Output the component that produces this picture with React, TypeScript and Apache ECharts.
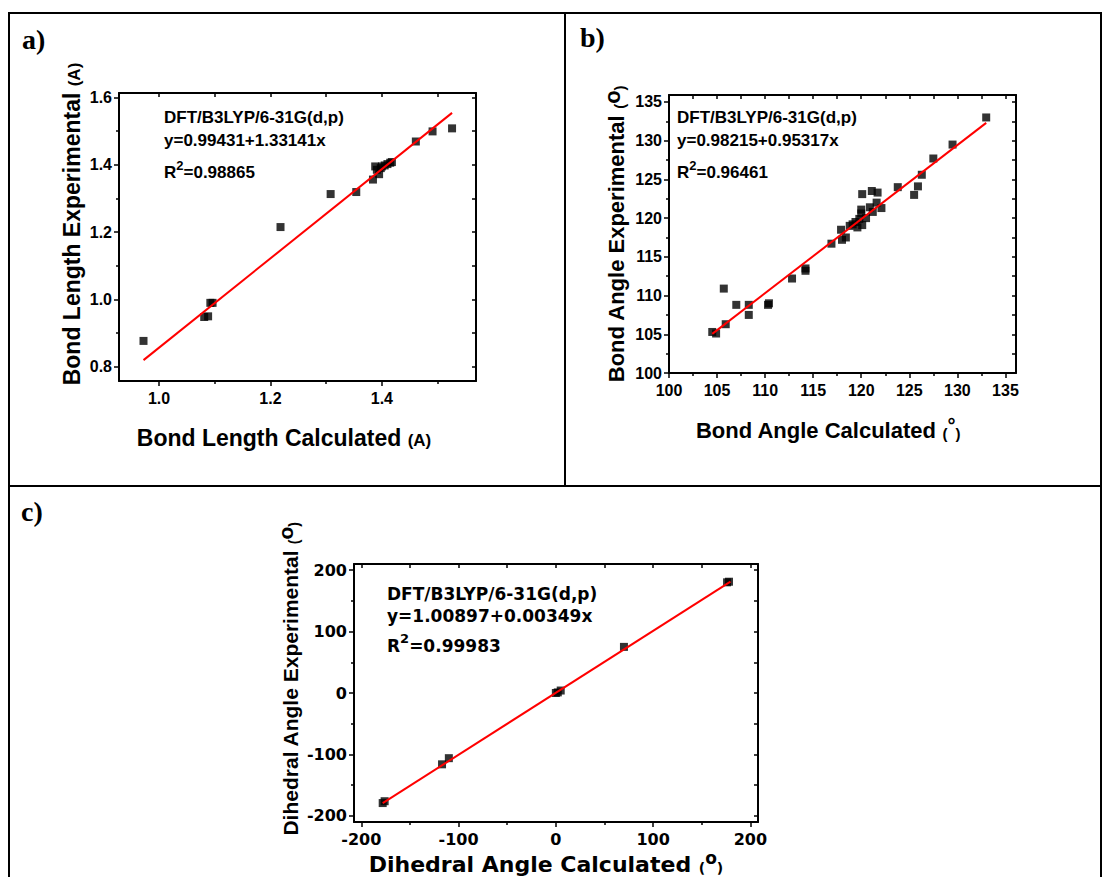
import React, { useEffect, useRef } from 'react';
import * as echarts from 'echarts';

// ---------- data ----------
// Panel a: bond length (Å)
const aCalc = [0.972, 1.081, 1.088, 1.092, 1.096, 1.218, 1.308, 1.354, 1.384, 1.388, 1.391, 1.395, 1.398, 1.400, 1.405, 1.410, 1.415, 1.418, 1.461, 1.491, 1.526];
const aExp = [0.877, 0.948, 0.950, 0.990, 0.990, 1.215, 1.313, 1.319, 1.356, 1.395, 1.385, 1.372, 1.390, 1.395, 1.398, 1.402, 1.406, 1.408, 1.469, 1.499, 1.508];
const aFitX = [0.972, 1.526];
const aFitY = [0.820, 1.554];
const aXMajor = [1.0, 1.2, 1.4];
const aXMinor = [1.1, 1.3, 1.5];
const aYMajor = [0.8, 1.0, 1.2, 1.4, 1.6];
const aYMinor = [0.9, 1.1, 1.3, 1.5];

// Panel b: bond angle (deg)
const bCalc = [133.0, 129.5, 127.5, 126.3, 125.9, 125.5, 123.8, 121.7, 121.1, 120.1, 120.0, 120.0, 120.9, 121.2, 121.6, 122.1, 120.5, 119.8, 120.1, 119.6, 119.1, 118.8, 119.4, 117.9, 118.0, 118.4, 116.9, 114.2, 114.2, 112.8, 110.4, 110.3, 108.3, 108.3, 107.0, 105.7, 105.9, 104.5, 104.9];
const bExp = [133.0, 129.5, 127.7, 125.6, 124.1, 123.0, 124.0, 123.3, 123.5, 123.1, 121.1, 120.6, 121.4, 120.8, 122.0, 121.3, 120.0, 119.9, 119.1, 118.8, 119.2, 119.0, 119.5, 118.5, 117.2, 117.5, 116.7, 113.5, 113.2, 112.2, 109.0, 108.8, 108.8, 107.5, 108.8, 110.9, 106.3, 105.3, 105.1];
const bFitX = [104.5, 133.0];
const bFitY = [105.05, 132.3];
const bMajor = [100, 105, 110, 115, 120, 125, 130, 135];
const bMinor = [102.5, 107.5, 112.5, 117.5, 122.5, 127.5, 132.5];

// Panel c: dihedral angle (deg)
const cCalc = [-178, -176, -117, -110, 0, 2, 5, 70, 176, 178];
const cExp = [-179, -176, -116, -106, 0, 1, 4, 75, 180, 181];
const cFitX = [-178, 179.5];
const cFitY = [-179, 181];
const cMajor = [-200, -100, 0, 100, 200];
const cMinor = [-150, -50, 50, 150];

const ARIAL = '"Liberation Sans", Arial, sans-serif';
const DEJAVU = '"DejaVu Sans", sans-serif';
const SERIF = '"Liberation Serif", "Times New Roman", serif';

function pairs(xs: number[], ys: number[]) {
  return xs.map((x, i) => [x, ys[i]]);
}

function makeAxes(
  dim: 'x' | 'y',
  grid: number,
  min: number,
  max: number,
  majors: number[],
  minors: number[],
  fmt: (v: number) => string,
  font: string,
  size: number,
  margin: number
) {
  const base: any = {
    type: 'value',
    gridIndex: grid,
    min,
    max,
    splitLine: { show: false },
  };
  const line = { show: true, onZero: false, lineStyle: { color: '#000', width: 2 } };
  const tickStyle = { color: '#000', width: 1.5 };
  const mainPos = dim === 'x' ? 'bottom' : 'left';
  const mirrorPos = dim === 'x' ? 'top' : 'right';
  return [
    {
      ...base,
      position: mainPos,
      axisLine: line,
      axisTick: { show: true, inside: false, length: 5, customValues: majors, lineStyle: tickStyle },
      axisLabel: {
        show: true,
        customValues: majors,
        formatter: fmt,
        fontFamily: font,
        fontSize: size,
        fontWeight: 'bold',
        color: '#000',
        margin,
      },
    },
    {
      ...base,
      position: mainPos,
      axisLine: { show: false, onZero: false },
      axisTick: { show: true, inside: false, length: 3, customValues: minors, lineStyle: tickStyle },
      axisLabel: { show: false },
    },
    {
      ...base,
      position: mirrorPos,
      axisLine: line,
      axisTick: { show: true, inside: true, length: 4, customValues: [...majors, ...minors], lineStyle: tickStyle },
      axisLabel: { show: false },
    },
  ];
}

function seriesFor(grid: number, xs: number[], ys: number[], fx: number[], fy: number[]) {
  return [
    {
      type: 'scatter',
      xAxisIndex: grid * 3,
      yAxisIndex: grid * 3,
      data: pairs(xs, ys),
      symbol: 'rect',
      symbolSize: 8,
      itemStyle: { color: '#000' },
      z: 3,
    },
    {
      type: 'line',
      xAxisIndex: grid * 3,
      yAxisIndex: grid * 3,
      data: pairs(fx, fy),
      showSymbol: false,
      symbol: 'none',
      lineStyle: { color: '#ff0000', width: 2 },
      z: 4,
    },
  ];
}

function annot(x: number, y0: number, y1: number, y2: number, font: string, size: number, l1: string, l2: string, r2: string) {
  const common = { fontFamily: font, fontSize: size, fontWeight: 'bold', fill: '#000' };
  return [
    { type: 'text', x, y: y0, style: { ...common, text: l1, align: 'left', verticalAlign: 'middle' } },
    { type: 'text', x, y: y1, style: { ...common, text: l2, align: 'left', verticalAlign: 'middle' } },
    {
      type: 'text',
      x,
      y: y2,
      style: {
        text: '{n|R}{s|2}{n|' + r2 + '}',
        align: 'left',
        verticalAlign: 'middle',
        rich: {
          n: { fontFamily: font, fontSize: size, fontWeight: 'bold', color: '#000', lineHeight: size + 5, verticalAlign: 'bottom' },
          s: { fontFamily: font, fontSize: Math.round(size * 0.78), fontWeight: 'bold', color: '#000', lineHeight: Math.round(size * 0.78), verticalAlign: 'top' },
        },
      },
    },
  ];
}

function title(x: number, y: number, rotate: boolean, text: string, rich: any) {
  return {
    type: 'text',
    x,
    y,
    rotation: rotate ? Math.PI / 2 : 0,
    style: { text, align: 'center', verticalAlign: 'middle', rich },
  };
}

function hline(x1: number, y1: number, x2: number, y2: number) {
  return { type: 'line', shape: { x1, y1, x2, y2 }, style: { stroke: '#000', lineWidth: 2 } };
}

export default function App() {
  const ref = useRef<HTMLDivElement>(null);
  useEffect(() => {
    if (!ref.current) return;
    const chart = echarts.init(ref.current, null, { renderer: 'svg' });

    const f1 = (v: number) => v.toFixed(1);
    const f0 = (v: number) => String(v);

    const xAxes = [
      ...makeAxes('x', 0, 0.928, 1.569, aXMajor, aXMinor, f1, ARIAL, 16, 9),
      ...makeAxes('x', 1, 100, 136.1, bMajor, bMinor, f0, ARIAL, 16, 9),
      ...makeAxes('x', 2, -207.5, 207.8, cMajor, cMinor, f0, DEJAVU, 16, 9),
    ];
    const yAxes = [
      ...makeAxes('y', 0, 0.758, 1.613, aYMajor, aYMinor, f1, ARIAL, 16, 7),
      ...makeAxes('y', 1, 100, 135.9, bMajor, bMinor, f0, ARIAL, 16, 7),
      ...makeAxes('y', 2, -209.8, 209.8, cMajor, cMinor, f0, DEJAVU, 16, 7),
    ];

    const tA = { fontFamily: ARIAL, fontWeight: 'bold', color: '#000', verticalAlign: 'bottom' };
    const tD = { fontFamily: DEJAVU, fontWeight: 'bold', color: '#000', verticalAlign: 'bottom' };

    const richA = {
      t: { ...tA, fontSize: 23, lineHeight: 26 },
      p: { ...tA, fontSize: 17, lineHeight: 21 },
    };
    const richB = {
      t: { ...tA, fontSize: 22, lineHeight: 26 },
      p: { ...tA, fontSize: 15, lineHeight: 18 },
      d: { ...tA, fontSize: 20, lineHeight: 26, verticalAlign: 'top' },
    };
    const richBy = {
      t: { ...tA, fontSize: 22, lineHeight: 26 },
      p: { ...tA, fontSize: 15, lineHeight: 18 },
      o: { ...tA, fontSize: 22, lineHeight: 26, verticalAlign: 'top' },
    };
    const richCx = {
      t: { ...tD, fontSize: 22, lineHeight: 26 },
      p: { ...tD, fontSize: 14, lineHeight: 17 },
      o: { ...tD, fontSize: 17, lineHeight: 26, verticalAlign: 'top' },
    };
    const richCy = {
      t: { ...tA, fontSize: 21, lineHeight: 26 },
      p: { ...tA, fontSize: 14, lineHeight: 17 },
      o: { ...tA, fontSize: 21, lineHeight: 26, verticalAlign: 'top' },
    };

    const graphic: any[] = [
      // frame
      hline(9, 13, 1101, 13),
      hline(9, 12, 9, 877),
      hline(1101, 12, 1101, 877),
      hline(565, 13, 565, 486),
      hline(9, 486, 1101, 486),
      // panel letters
      { type: 'text', x: 22, y: 39, style: { text: 'a)', fontFamily: SERIF, fontWeight: 'bold', fontSize: 28, fill: '#000', align: 'left', verticalAlign: 'middle' } },
      { type: 'text', x: 580, y: 37, style: { text: 'b)', fontFamily: SERIF, fontWeight: 'bold', fontSize: 28, fill: '#000', align: 'left', verticalAlign: 'middle' } },
      { type: 'text', x: 21, y: 511, style: { text: 'c)', fontFamily: SERIF, fontWeight: 'bold', fontSize: 28, fill: '#000', align: 'left', verticalAlign: 'middle' } },
      // annotations
      ...annot(164, 117, 140, 170, ARIAL, 17, 'DFT/B3LYP/6-31G(d,p)', 'y=0.99431+1.33141x', '=0.98865'),
      ...annot(677, 117, 140, 170, ARIAL, 17, 'DFT/B3LYP/6-31G(d,p)', 'y=0.98215+0.95317x', '=0.96461'),
      ...annot(387, 594, 616, 643, DEJAVU, 17, 'DFT/B3LYP/6-31G(d,p)', 'y=1.00897+0.00349x', '=0.99983'),
      // axis titles
      title(284, 436, false, '{t|Bond Length Calculated }{p|(A)}', richA),
      title(70, 224, true, '{t|Bond Length Experimental }{p|(A)}', richA),
      title(828, 428, false, '{t|Bond Angle Calculated }{p|(}{d|°}{p|)}', richB),
      title(614, 234, true, '{t|Bond Angle Experimental }{p|(}{o|o}{p|)}', richBy),
      title(546, 862, false, '{t|Dihedral Angle Calculated }{p|(}{o|o}{p|)}', richCx),
      title(288, 679, true, '{t|Dihedral Angle Experimental }{p|(}{o|o}{p|)}', richCy),
    ];

    chart.setOption({
      animation: false,
      backgroundColor: '#fff',
      grid: [
        { left: 119, top: 93, width: 357, height: 288 },
        { left: 669, top: 95, width: 347, height: 278 },
        { left: 354, top: 564, width: 404, height: 258 },
      ],
      xAxis: xAxes,
      yAxis: yAxes,
      series: [
        ...seriesFor(0, aCalc, aExp, aFitX, aFitY),
        ...seriesFor(1, bCalc, bExp, bFitX, bFitY),
        ...seriesFor(2, cCalc, cExp, cFitX, cFitY),
      ],
      graphic,
    });
    return () => chart.dispose();
  }, []);
  return (
    <div
      ref={ref}
      style={{ position: 'fixed', left: 0, top: 0, width: 1102, height: 877, background: '#fff' }}
    />
  );
}
